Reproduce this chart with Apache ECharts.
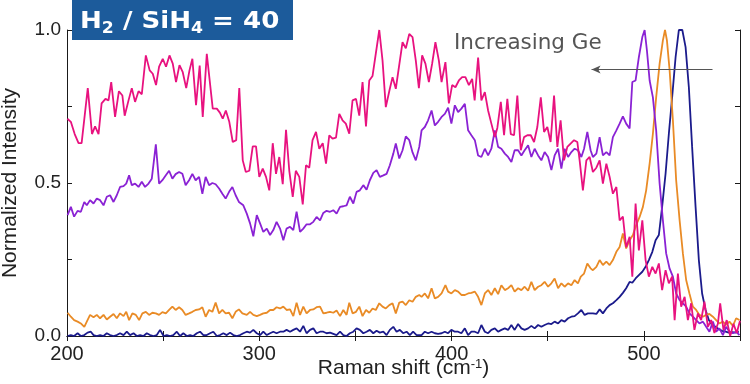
<!DOCTYPE html>
<html><head><meta charset="utf-8">
<script src="https://cdn.jsdelivr.net/npm/echarts@6/dist/echarts.min.js"></script>
<style>html,body{margin:0;padding:0;background:#fff}#c{width:750px;height:384px}</style>
</head><body><div id="c"></div>
<script>
// Raman shift range and ticks
const xMin = 200, xMax = 550, xStep = 50;
const yMin = 0, yMax = 1, yStep = 0.25;
const titleText = 'H{s|2} / SiH{s|4} = 40';
const annotationText = 'Increasing Ge';
const arrowFrom = [535.7, 0.871];
const arrowTo = [472.8, 0.871];

// Series data: [Raman shift (cm-1), normalized intensity]
const pinkSeries = [[200.2,0.71],[202,0.70],[204,0.66],[206,0.63],[207.6,0.63],[210.8,0.81],[213,0.66],[214.6,0.685],[216.4,0.66],[218,0.76],[220,0.775],[221.6,0.77],[223,0.83],[225,0.716],[227,0.80],[228.8,0.786],[230,0.72],[232,0.77],[233.7,0.81],[235.4,0.765],[237.2,0.80],[238.9,0.79],[241,0.917],[243,0.868],[244.6,0.857],[246.3,0.82],[247.9,0.88],[249.8,0.906],[251.5,0.88],[253.3,0.917],[255,0.89],[256.7,0.83],[258.5,0.885],[260.2,0.862],[262,0.81],[263.7,0.868],[265.2,0.906],[267.1,0.754],[269,0.884],[270.6,0.716],[272.7,0.922],[275.8,0.743],[277.9,0.743],[279.5,0.73],[281,0.71],[282.6,0.737],[284.4,0.70],[286.2,0.634],[288,0.64],[289.6,0.81],[291.4,0.574],[293,0.536],[294.8,0.54],[296.6,0.62],[298.3,0.62],[300,0.52],[301.8,0.547],[303.5,0.52],[305.2,0.476],[307,0.63],[308.7,0.53],[310.4,0.585],[312.2,0.496],[313.9,0.674],[315.6,0.54],[317.4,0.455],[319,0.54],[320.8,0.52],[322.6,0.43],[324.3,0.558],[326,0.55],[327.7,0.64],[329.5,0.667],[331.2,0.612],[333,0.63],[334.7,0.563],[336.4,0.656],[338.1,0.645],[339.9,0.648],[341.6,0.726],[343.3,0.705],[345,0.694],[346.8,0.661],[348.5,0.77],[350.3,0.775],[352,0.72],[353.7,0.83],[355.5,0.685],[357.2,0.835],[358.9,0.85],[362.4,1.0],[364.1,0.90],[365.8,0.748],[367.6,0.80],[369.3,0.846],[371,0.808],[374.5,0.96],[376.2,0.94],[378,0.987],[379.7,0.977],[381.4,0.90],[383,0.81],[384.7,0.917],[386.4,0.89],[388.2,0.83],[389.9,0.89],[391.6,0.96],[393.4,0.90],[394.8,0.83],[396.8,0.895],[398.6,0.76],[400.3,0.82],[402,0.813],[403.8,0.835],[405.5,0.846],[407.2,0.846],[409,0.82],[410.7,0.84],[412,0.77],[413.8,0.91],[415.5,0.77],[417.3,0.797],[419,0.737],[420.7,0.694],[422.5,0.65],[423.8,0.68],[425.6,0.765],[427.3,0.656],[429,0.775],[430.8,0.66],[432.5,0.656],[434.2,0.786],[436,0.607],[437.7,0.65],[439.4,0.656],[441.2,0.656],[442.9,0.634],[444.6,0.683],[446.4,0.78],[448.1,0.667],[449.8,0.683],[451.5,0.634],[453.3,0.786],[455,0.618],[456.7,0.705],[458.5,0.574],[460.2,0.618],[461.9,0.629],[463.7,0.64],[465.4,0.634],[466.6,0.574],[468.3,0.476],[470.1,0.574],[471.8,0.585],[473.5,0.536],[475.3,0.55],[477,0.574],[478.7,0.498],[480.5,0.563],[482.2,0.52],[483.9,0.465],[485.7,0.487],[487.4,0.378],[489.1,0.39],[490.8,0.29],[492.6,0.324],[494,0.194],[495.7,0.433],[497.4,0.28],[499.2,0.378],[500.9,0.248],[502.6,0.194],[504.4,0.226],[506.1,0.204],[507.8,0.237],[509.5,0.15],[511.3,0.215],[513,0.172],[514.7,0.194],[516,0.052],[517.7,0.204],[519.4,0.096],[521.2,0.128],[522.9,0.052],[524.6,0.107],[526.3,0.02],[528.1,0.074],[529.8,0.052],[531.5,0.112],[533.3,0.03],[535,0.052],[536.7,0.01],[538.5,0.04],[539.7,0.107],[541.4,0.02],[543.1,0.052],[544.9,0.0],[546.6,0.04],[548.3,0.01],[550,0.05]];

const purpleSeries = [[200.3,0.395],[202,0.422],[203.7,0.39],[205.5,0.409],[207.2,0.406],[209,0.438],[210.3,0.427],[212,0.444],[213.8,0.433],[215.5,0.449],[217.2,0.444],[219,0.427],[220.7,0.455],[222.4,0.46],[224.2,0.438],[225.9,0.46],[227.6,0.487],[229.4,0.49],[230.8,0.498],[232.3,0.525],[233.7,0.493],[235.4,0.498],[237.2,0.487],[238.9,0.504],[240.6,0.487],[242.4,0.498],[244.1,0.514],[246.2,0.626],[247.9,0.498],[249.6,0.509],[251.4,0.525],[253.1,0.54],[254.8,0.514],[256.5,0.529],[258.3,0.536],[260,0.53],[261.7,0.493],[263.5,0.509],[265.2,0.53],[266.9,0.509],[268.7,0.52],[270.4,0.465],[272.1,0.52],[273.9,0.493],[275.6,0.50],[277.3,0.496],[279.1,0.482],[280.8,0.465],[282.5,0.449],[284.3,0.471],[286,0.487],[287.7,0.46],[289.4,0.438],[291.7,0.427],[293.5,0.40],[295.2,0.368],[296.9,0.326],[298.7,0.395],[300.4,0.368],[302.1,0.34],[303.9,0.351],[305.6,0.33],[307.3,0.346],[309,0.373],[310.8,0.351],[312.5,0.313],[314.2,0.351],[316,0.357],[317.7,0.346],[319.4,0.406],[321.2,0.34],[322.9,0.351],[324.6,0.365],[326.4,0.365],[328.1,0.373],[329.8,0.389],[331.6,0.378],[333.3,0.402],[335,0.409],[336.8,0.406],[338.5,0.411],[340.2,0.40],[342,0.422],[343.7,0.424],[345.4,0.427],[347.1,0.455],[348.9,0.433],[350.6,0.471],[352.3,0.476],[354.1,0.493],[355.8,0.478],[357.5,0.509],[359.3,0.533],[361,0.542],[362.7,0.52],[364.5,0.525],[366.2,0.53],[367.9,0.558],[369.7,0.596],[371,0.629],[372.8,0.58],[374.5,0.607],[376.2,0.652],[378,0.64],[379.7,0.60],[381.4,0.574],[383.2,0.618],[384.4,0.672],[386.1,0.683],[387.8,0.705],[389.6,0.737],[391.3,0.688],[393,0.70],[394.8,0.716],[396.5,0.726],[398.2,0.746],[399.9,0.694],[401.7,0.754],[403.4,0.732],[405.1,0.743],[406.9,0.759],[408.6,0.672],[410.3,0.656],[412.1,0.64],[413.8,0.59],[415.5,0.585],[417.3,0.612],[419,0.59],[420.7,0.612],[422.5,0.672],[424.2,0.618],[425.9,0.612],[427.7,0.596],[429.4,0.585],[431.1,0.569],[432.8,0.607],[434.6,0.607],[436.3,0.59],[438,0.607],[439.8,0.623],[441.5,0.585],[443.2,0.612],[445,0.59],[446.7,0.574],[448.4,0.601],[450.2,0.585],[451.9,0.542],[453.6,0.59],[455.4,0.612],[457.1,0.547],[458.8,0.612],[460.6,0.585],[462.3,0.601],[464,0.612],[465.7,0.607],[467.5,0.585],[468.9,0.612],[470.6,0.667],[472.3,0.607],[473.5,0.585],[475.3,0.596],[477,0.65],[478.7,0.59],[480.5,0.601],[482.2,0.59],[483.9,0.65],[485.7,0.672],[487.4,0.694],[489.1,0.718],[490.8,0.694],[492.6,0.678],[494,0.83],[495.7,0.835],[497.4,0.911],[499.2,0.977],[500.4,1.0],[501.6,0.933],[503,0.835],[504.7,0.78],[506.4,0.672],[508.2,0.498],[509.9,0.378],[511.6,0.27],[513.4,0.22],[515.1,0.194],[516.8,0.139],[518.6,0.117],[520.3,0.107],[522,0.096],[523.7,0.074],[525.5,0.063],[527.2,0.052],[528.9,0.041],[530.7,0.047],[532.4,0.03],[534.1,0.014],[535.9,0.047],[537.6,0.014],[539.3,0.025],[541.1,0.003],[542.8,0.03],[544.5,0.014],[546.3,0.009],[548,0.014],[549.7,0.003]];

const orangeSeries = [[200.3,0.076],[202,0.063],[203.7,0.052],[205.5,0.047],[207.2,0.041],[209,0.03],[210.3,0.047],[212,0.069],[213.8,0.061],[215.5,0.069],[217.2,0.058],[219,0.069],[220.7,0.054],[222.4,0.063],[224.2,0.072],[225.9,0.058],[227.6,0.074],[229.4,0.065],[230.8,0.079],[232.3,0.052],[234,0.074],[235.8,0.069],[237.5,0.052],[239.2,0.074],[241,0.079],[242.7,0.069],[244.4,0.076],[246.2,0.074],[247.9,0.069],[249.6,0.078],[251.4,0.074],[253.1,0.085],[254.8,0.096],[256.5,0.085],[258.3,0.094],[260,0.085],[261.7,0.069],[263.5,0.074],[265.2,0.079],[266.9,0.085],[268.7,0.087],[270.4,0.094],[272.1,0.063],[273.9,0.085],[275.6,0.079],[277.3,0.109],[279.1,0.074],[280.8,0.085],[282.5,0.074],[284.3,0.076],[286,0.058],[287.7,0.079],[289.4,0.087],[291.2,0.074],[293.5,0.069],[295.2,0.079],[296.9,0.069],[298.7,0.065],[300.4,0.069],[302.1,0.074],[303.9,0.076],[305.6,0.085],[307.3,0.085],[309,0.094],[310.8,0.09],[312.5,0.096],[314.2,0.085],[316,0.087],[317.7,0.065],[319.4,0.109],[321.2,0.069],[322.9,0.096],[324.6,0.074],[326.4,0.085],[328.1,0.087],[329.8,0.094],[331.6,0.096],[333.3,0.074],[335,0.076],[336.8,0.079],[338.5,0.076],[340.2,0.083],[342,0.065],[343.7,0.085],[345.4,0.069],[346.8,0.109],[348.5,0.074],[350.3,0.079],[352,0.096],[353.7,0.065],[355.5,0.085],[357.2,0.076],[358.9,0.09],[360.6,0.085],[362.4,0.107],[364.1,0.096],[365.8,0.09],[367.6,0.101],[369.3,0.107],[371,0.074],[372.8,0.109],[374.5,0.112],[376.2,0.101],[378,0.117],[379.7,0.112],[381.4,0.128],[383.2,0.134],[384.4,0.128],[386.1,0.139],[387.8,0.123],[389.6,0.156],[391.3,0.123],[393,0.128],[394.8,0.139],[396.8,0.166],[398.2,0.145],[399.9,0.139],[401.7,0.15],[403.4,0.145],[405.1,0.134],[406.9,0.134],[408.6,0.139],[410.3,0.141],[412.1,0.145],[413.8,0.128],[415.5,0.101],[417.3,0.139],[419,0.15],[420.7,0.134],[422.5,0.156],[424.2,0.137],[425.9,0.166],[427.7,0.15],[429.4,0.156],[431.1,0.166],[432.8,0.145],[434.6,0.156],[436.3,0.15],[438,0.161],[439.8,0.148],[441.5,0.177],[443.2,0.15],[445,0.161],[446.7,0.166],[448.4,0.177],[450.2,0.161],[451.9,0.172],[453.6,0.188],[455.4,0.156],[457.1,0.172],[458.8,0.161],[460.6,0.172],[462.3,0.166],[464,0.183],[465.7,0.172],[467.2,0.194],[468.9,0.204],[470.6,0.237],[472.3,0.221],[473.5,0.215],[475.3,0.226],[477,0.248],[478.7,0.232],[480.5,0.243],[482.2,0.232],[483.9,0.248],[485.7,0.275],[487.4,0.291],[489.1,0.335],[490.8,0.286],[492.6,0.313],[494.3,0.33],[496,0.362],[497.8,0.389],[499.5,0.422],[501.2,0.476],[503,0.563],[504.7,0.661],[506.4,0.78],[508.2,0.89],[509.9,0.966],[511,1.0],[512,0.966],[513.4,0.868],[515.1,0.705],[516.8,0.509],[518.6,0.378],[520.3,0.27],[522,0.183],[523.7,0.139],[525.5,0.096],[527.2,0.085],[528.9,0.069],[530.7,0.063],[532.4,0.069],[534.1,0.072],[535.9,0.063],[537.6,0.052],[539.3,0.041],[541.1,0.047],[542.8,0.036],[544.5,0.047],[546.3,0.033],[548,0.058],[549.7,0.052]];

const navySeries = [[200.3,0],[202,0.003],[203.7,0],[205.5,0.009],[207.2,0],[209,0.003],[210.7,0.011],[212.4,0.014],[213.8,0.003],[215.5,0],[217.2,0.003],[219,0],[220.7,0.009],[222.4,0.003],[224.2,0],[225.9,0.003],[227.6,0.009],[229.4,0.003],[231.1,0.014],[232.8,0.003],[234.6,0.009],[236.3,0],[238,0.003],[239.8,0],[241.5,0.009],[243.2,0.003],[245,0],[246.7,0.003],[248.4,0.02],[250.2,0],[251.9,0.003],[253.6,0],[255.3,0.003],[257.1,0.014],[258.8,0],[260.5,0.009],[262.3,0],[264,0.003],[265.7,0],[267.5,0.009],[269.2,0.014],[270.9,0.003],[272.7,0.003],[274.4,0.009],[276.1,0.014],[277.9,0],[279.6,0.003],[281.3,0.009],[283.1,0.003],[284.8,0.011],[286.5,0.003],[288.3,0],[290,0.003],[291.7,0.009],[293.5,0.014],[295.2,0.011],[296.9,0.02],[298.7,0.009],[300.4,0.003],[302.1,0.014],[303.9,0.003],[305.6,0.009],[307.3,0.014],[309,0.009],[310.8,0.014],[312.5,0.014],[314.2,0.02],[316,0.014],[317.7,0.02],[319.4,0.025],[321.2,0.014],[322.9,0.033],[324.6,0.009],[326.4,0.02],[328.1,0.025],[329.8,0.009],[331.6,0.014],[333.3,0.014],[335,0.009],[336.8,0.011],[338.5,0.007],[340.2,0.003],[342,0.014],[343.7,0.003],[345.4,0],[347.1,0.009],[348.9,0.014],[350.6,0.025],[352.3,0.02],[354.1,0.009],[355.8,0.014],[357.5,0.02],[359.3,0.009],[361,0.017],[362.7,0.011],[364.5,0.014],[366.2,0.003],[367.9,0.02],[369.7,0.03],[371.4,0.014],[373.1,0.02],[374.8,0.009],[376.6,0.014],[378.3,0.003],[380,0.014],[381.8,0.003],[384.4,0.003],[386.1,0.014],[387.8,0.009],[389.6,0.014],[391.3,0.009],[393,0.007],[394.8,0.009],[396.5,0.014],[398.2,0.009],[399.9,0.02],[401.7,0.014],[403.4,0.014],[405.1,0.009],[406.9,0.025],[408.6,0.003],[410.3,0.014],[412.1,0.014],[413.8,0.009],[415.5,0.036],[417.3,0.014],[419,0.009],[420.7,0.02],[422.5,0.025],[424.2,0.014],[425.9,0.02],[427.7,0.025],[429.4,0.02],[431.1,0.036],[432.8,0.02],[434.6,0.039],[436.3,0.025],[438,0.02],[439.8,0.025],[441.5,0.033],[443.2,0.025],[445,0.036],[446.7,0.03],[448.4,0.036],[450.2,0.041],[451.9,0.039],[453.6,0.047],[455.4,0.041],[457.1,0.052],[458.8,0.047],[460.6,0.058],[462.3,0.063],[464,0.065],[465.7,0.074],[467.5,0.085],[469.2,0.069],[470.9,0.074],[473.5,0.074],[475.3,0.072],[477,0.087],[478.7,0.074],[480.5,0.09],[482.2,0.101],[483.9,0.107],[485.7,0.117],[487.4,0.128],[489.1,0.141],[490.8,0.156],[492.6,0.177],[494,0.174],[495.7,0.188],[497.4,0.199],[499.2,0.21],[500.9,0.226],[502.6,0.248],[504.4,0.275],[506.1,0.313],[507.8,0.33],[509.5,0.422],[511.3,0.531],[513,0.661],[514.7,0.78],[516.5,0.911],[518.2,1.0],[520,1.0],[521.7,0.944],[523.4,0.813],[525.1,0.618],[526.9,0.422],[528.6,0.248],[530.3,0.139],[532.1,0.085],[533.8,0.052],[535.5,0.036],[537.3,0.03],[539,0.022],[540.7,0.017],[542.5,0.014],[544.2,0.011],[546,0.013],[547.7,0.011],[549.4,0.014]];

const colors = { pink: '#e8127f', purple: '#8a22d4', orange: '#e98b26', navy: '#1b1b8c' };

const chart = echarts.init(document.getElementById('c'), null, { renderer: 'canvas' });
const FONT = 'Liberation Sans';
const axisLineStyle = { color: '#1a1a1a', width: 1 };
function mkLine(data, color, z, extra) {
  return Object.assign({
    type: 'line', data: data, showSymbol: false, symbol: 'none', silent: true, z: z,
    lineStyle: { color: color, width: 1.8 }, itemStyle: { color: color }
  }, extra || {});
}
const option = {
  animation: false,
  grid: { left: 67, right: 10, top: 30, bottom: 48, containLabel: false, outerBoundsMode: 'none' },
  xAxis: [{
    type: 'value', min: xMin, max: xMax, interval: xStep, position: 'bottom',
    axisLine: { lineStyle: axisLineStyle },
    axisTick: { inside: true, length: 5, lineStyle: axisLineStyle },
    axisLabel: { fontFamily: FONT, fontSize: 20, color: '#222', margin: 8,
      formatter: v => (v % 100 === 0 ? String(v) : '') },
    splitLine: { show: false },
    name: 'Raman shift (cm{sup|-1})', nameLocation: 'middle', nameGap: 22, nameMoveOverlap: false,
    nameTextStyle: { fontFamily: FONT, fontSize: 21, color: '#222',
      rich: { sup: { fontFamily: FONT, fontSize: 13, color: '#222', verticalAlign: 'top', lineHeight: 13 } } }
  }, {
    type: 'value', min: xMin, max: xMax, interval: xStep, position: 'top',
    axisLine: { lineStyle: axisLineStyle },
    axisTick: { inside: true, length: 5, lineStyle: axisLineStyle },
    axisLabel: { show: false }, splitLine: { show: false }
  }],
  yAxis: [{
    type: 'value', min: yMin, max: yMax, interval: yStep, position: 'left',
    axisLine: { show: true, lineStyle: axisLineStyle },
    axisTick: { show: true, inside: true, length: 5, lineStyle: axisLineStyle },
    axisLabel: { fontFamily: FONT, fontSize: 19, color: '#222', margin: 6,
      formatter: v => (Math.abs(v * 2 - Math.round(v * 2)) < 1e-9 ? v.toFixed(1) : '') },
    splitLine: { show: false },
    name: 'Normalized Intensity', nameLocation: 'middle', nameGap: 46, nameMoveOverlap: false,
    nameTextStyle: { fontFamily: FONT, fontSize: 21, color: '#222' }
  }, {
    type: 'value', min: yMin, max: yMax, interval: yStep, position: 'right',
    axisLine: { show: true, lineStyle: axisLineStyle },
    axisTick: { show: true, inside: true, length: 5, lineStyle: axisLineStyle },
    axisLabel: { show: false }, splitLine: { show: false }
  }],
  series: [
    mkLine(navySeries, colors.navy, 2),
    mkLine(orangeSeries, colors.orange, 3),
    mkLine(purpleSeries, colors.purple, 4),
    mkLine(pinkSeries, colors.pink, 5, {
      markLine: {
        silent: true, animation: false, symbol: ['none', 'arrow'], symbolSize: [6, 9],
        lineStyle: { color: '#555', width: 1, type: 'solid' }, label: { show: false },
        data: [[{ coord: arrowFrom }, { coord: arrowTo }]]
      }
    })
  ],
  graphic: [
    { type: 'rect', z: 100, shape: { x: 72, y: 0, width: 221, height: 40 }, style: { fill: '#1c5b9b' } },
    { type: 'text', z: 101, x: 80, y: 7, scaleX: 1.11, style: {
        text: titleText, fill: '#fff', font: 'bold 23.5px "DejaVu Sans"', lineHeight: 30,
        verticalAlign: 'top', align: 'left',
        rich: { s: { fill: '#fff', fontSize: 15.5, fontWeight: 'bold', fontFamily: 'DejaVu Sans', lineHeight: 12, verticalAlign: 'bottom' } }
    } },
    { type: 'text', z: 101, x: 454, y: 43, style: {
        text: annotationText, fill: '#555', font: '21.5px "DejaVu Sans"', verticalAlign: 'middle', align: 'left'
    } }
  ]
};
chart.setOption(option);
</script></body></html>
